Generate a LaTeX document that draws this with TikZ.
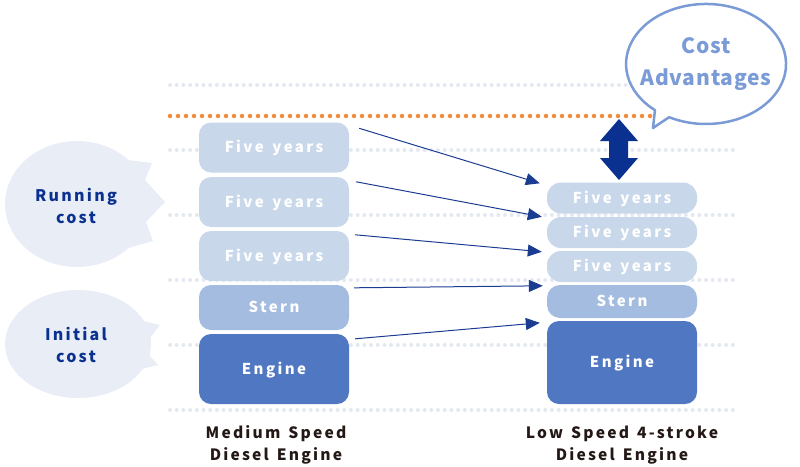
\documentclass[tikz,border=0pt]{standalone}
\usepackage{fontspec}
\usetikzlibrary{arrows.meta,calc}
\newfontfamily\lblfont{Noto Sans CJK JP}[LetterSpace=16,WordSpace=1.5]
\newfontfamily\btmfont{Noto Sans CJK JP}[LetterSpace=14,WordSpace=1.4]
\newfontfamily\advfont{Noto Sans CJK JP}[LetterSpace=4]
\definecolor{lightbox}{HTML}{C8D8EA}
\definecolor{sternbox}{HTML}{A3BCE0}
\definecolor{enginebox}{HTML}{5077C2}
\definecolor{navy}{HTML}{0B3190}
\definecolor{arrowline}{HTML}{1B3D91}
\definecolor{bubblefill}{HTML}{E9EDF6}
\definecolor{advblue}{HTML}{7B9BD6}
\definecolor{dotgray}{HTML}{E4E8F1}
\definecolor{dotorange}{HTML}{F08C3C}
\definecolor{darktext}{HTML}{231815}
\tikzset{
  boxbase/.style={rectangle, inner sep=0pt, minimum width=150pt, text=white,
    text height=10.5pt, text depth=0pt,
    font=\lblfont\bfseries\fontsize{15}{18}\selectfont},
  fivebox/.style={boxbase, fill=lightbox},
  sternstyle/.style={boxbase, fill=sternbox},
  enginestyle/.style={boxbase, fill=enginebox},
  grayrule/.style={dotgray, line width=4pt, line cap=round, dash pattern=on 0pt off 6.7pt},
  orangerule/.style={dotorange, line width=4.5pt, line cap=round, dash pattern=on 0pt off 8pt},
  conn/.style={arrowline, line width=1pt, -{Triangle[length=14pt,width=12pt]}},
  sidetext/.style={text=navy, align=center, font=\btmfont\bfseries\fontsize{16}{22}\selectfont},
  bottomtext/.style={text=darktext, align=center, font=\btmfont\bfseries\fontsize{15.6}{22}\selectfont}
}
\begin{document}
\begin{tikzpicture}[x=1pt,y=-1pt]
\useasboundingbox (0,0) rectangle (800,466);
% dotted rules
\foreach \yy in {85,150,215,280,345,410}
  \draw[grayrule] (170,\yy) -- (733,\yy);
\draw[orangerule] (170,116) -- (652,116);
% left bubbles
\fill[bubblefill] (77,204) ellipse [x radius=72, y radius=63];
\fill[bubblefill] (128,160) -- (152,163) -- (145,180) -- (165,202) -- (146,222) -- (153,241) -- (128,248) -- cycle;
\fill[bubblefill] (78,344) ellipse [x radius=73, y radius=54];
\fill[bubblefill] (130,318) -- (160,325) -- (150,338) -- (150,356) -- (158,365) -- (130,372) -- cycle;
\node[sidetext] (run) at (76,206) {Running\\cost};
\node[sidetext] (ini) at (76,345) {Initial\\cost};
% left stack
\node[fivebox, minimum height=50pt, rounded corners=12pt] (l1) at (274,147.5) {Five years};
\node[fivebox, minimum height=50pt, rounded corners=12pt] (l2) at (274,202) {Five years};
\node[fivebox, minimum height=50pt, rounded corners=12pt] (l3) at (274,256) {Five years};
\node[sternstyle, minimum height=45pt, rounded corners=12pt] (l4) at (274,307.5) {Stern};
\node[enginestyle, minimum height=70pt, rounded corners=12pt] (l5) at (274,369) {Engine};
% right stack
\node[fivebox, minimum height=31pt, rounded corners=14pt] (r1) at (622,198) {Five years};
\node[fivebox, minimum height=31pt, rounded corners=14pt] (r2) at (622,232.5) {Five years};
\node[fivebox, minimum height=31pt, rounded corners=14pt] (r3) at (622,266.5) {Five years};
\node[sternstyle, minimum height=33pt, rounded corners=13pt] (r4) at (622,301.5) {Stern};
\node[enginestyle, minimum height=83pt, rounded corners=12pt] (r5) at (622,362.5) {Engine};
% connectors
\draw[conn] ($(l1.north east)+(10,6)$) -- ($(r1.north west)+(-7,1)$);
\draw[conn] ($(l2.north east)+(7,5)$) -- ($(r2.north west)+(-5,0)$);
\draw[conn] ($(l3.north east)+(6,4)$) -- ($(r3.north west)+(-5,1)$);
\draw[conn] ($(l4.north east)+(5,3)$) -- ($(r4.north west)+(-4,1)$);
\draw[conn] ($(l5.north east)+(6,5)$) -- ($(r5.north west)+(-7,2)$);
% double arrow
\fill[navy] (619,119) -- (638,141) -- (628,141) -- (628,158) -- (638,158) -- (619,180)
  -- (600,158) -- (609,158) -- (609,141) -- (600,141) -- cycle;
% cost advantages bubble
\draw[advblue, line width=2.5pt, fill=white, line join=round]
  (653,128) -- (669.1,117.2) arc[start angle=117.5, end angle=-230.3, x radius=80, y radius=60] -- cycle;
\node[text=advblue, align=center, font=\advfont\bfseries\fontsize{21}{32}\selectfont] (adv) at (706,64) {Cost\\Advantages};
% bottom labels
\node[bottomtext] (med) at (276,445) {Medium Speed\\Diesel Engine};
\node[bottomtext] (low) at (622,445) {Low Speed 4-stroke\\Diesel Engine};
\end{tikzpicture}
\end{document}
